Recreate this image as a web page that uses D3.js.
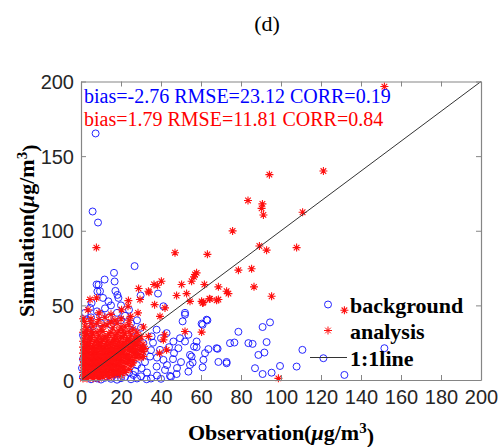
<!DOCTYPE html>
<html>
<head>
<meta charset="utf-8">
<script src="https://cdn.jsdelivr.net/npm/d3@7"></script>
<style>
  body { margin: 0; background: #fff; }
  svg { display: block; }
</style>
</head>
<body>
<svg id="chart" width="499" height="447"></svg>
<script>
// observation vs simulation, [obs, sim]
const backgroundPts = [
    [7.3,165.2],[5.8,112.9],[8.5,105.5],[26.8,76.3],[16.5,71.8],[11.8,67.3],[8.8,63.8],[16.8,66],
    [8.2,59.3],[17.2,59.7],[18.2,57],[29.8,56.6],[38.5,57.9],[5.3,51.6],[13.7,52.7],[4.5,48.3],
    [18.7,55],[9.5,59.5],[7.8,64],[41.2,49.4],[52,45],[52,43.8],[50.8,39.3],[62.8,40.4],[63.2,40],
    [60.8,37],[60.3,37.7],[94.5,38.6],[90.8,35.5],[78.7,32.3],[92.8,25.4],[74.5,24.7],[76.7,25.1],
    [83.7,24.7],[85.8,24.2],[68.3,20.9],[63.7,20.7],[57.8,25.8],[56.5,22.4],[52,25.8],[48.7,21.3],
    [46.5,18],[62,18],[61.2,13.5],[54.5,16.8],[55.8,11.7],[60.8,8.5],[68.7,12.1],[72.8,12.1],
    [88.7,16.8],[91.7,18.4],[99.5,9.4],[87,7.9],[90.8,4],[95.3,4.9],[53.7,5.6],[47.8,4],[45,2.2],
    [110.7,20.2],[107.8,9],[121.2,14.6],[151.7,21.3],[131.7,3.4],[67.8,21.3],[72.8,11.2],[54.5,10.1],
    [44.5,2.7],[32.8,0.5],[53.7,30.3],[49.5,28],[46.2,25.8],[42.8,31.4],[37.8,33.7],[35.3,29.2],
    [31.2,24.7],[39.5,20.2],[34.5,15.7],[41.2,13.5],[37.8,9],[42,6.7],[30.3,7.9],[26.2,3.4],
    [57.8,22],[55.3,15.7],
    [2,45],[3,40],[5,42],[8,46],[10,44],[12,48],[14,42],[18,45],[20,40],[22,43],[25,38],[6,36],
    [10,38],[15,37],[1,30],[3,25],[2,20],[4,33],[20,50],[24,47],[15,50],[11,55],[28,40],[30,35],
    [26,33],[5,0.5],[8,1],[10,0.3],[12,1.5],[15,0.8],[18,0.2],[20,1.2],[22,2],[25,0.5],[28,1],
    [30,2.5],[35,1],[38,3],[40,0.8],[14,3],[17,4],[24,5],[27,6],[32,12],[35,20],[30,18],[28,10],
    [33,5],[36,25],[40,28],[44,22],[38,15],[43,10],[46,14],[48,8],[50,12],[1,2],[0.5,8],[1,14]
];

const analysisPts = [
    [151.7,196.6],[94.2,137.6],[121.2,140],[83.5,120.3],[90.7,118],[90.3,115],[91.2,110.6],
    [110.8,112.4],[75.8,99.9],[89.2,89.8],[92.8,87],[107.8,88.7],[7.7,88.7],[47,85.3],[63.2,84.2],
    [78.7,73.6],[85.3,74.5],[57,70.7],[57.8,71.8],[56.5,69.1],[55.3,66.2],[40.2,66.2],[38.2,63.5],
    [36.5,64],[50.3,64],[61.7,64],[28.8,61.3],[34,58.8],[33.7,59.5],[68.7,62.4],[72.8,59.5],
    [73.7,57.9],[86.5,62.4],[95.3,56.1],[47.8,56.6],[52.8,57.9],[64.2,54.5],[67.8,53.4],[60.3,52.7],
    [61.2,52],[54.5,52.7],[64.5,54.3],[60.8,51.6],[68.7,53.9],[131.7,46.7],[98.7,1.1],[60.3,32.1],
    [52,32.5],[23.7,53.2],[29.5,53.9],[20.3,47.1],[24.8,42.6],[42,48.3],[39.5,42.6],[41.2,26.9],
    [42.8,20.2],[7.8,55],[4.5,53.9],[2.8,31.4],[31.2,15.7],[33.7,29.2],[31.2,35.5],[23.5,49.4],
    [28.5,45],[36.8,50.5],[41.8,30.3],[39.3,18],[3.5,47],[1.8,39.3],
    // dense cluster
    [1,1],[2,2],[3,1],[4,3],[5,2],[6,1],[7,3],[8,2],[9,1],[10,3],[11,2],[12,4],[14,2],[16,3],[18,4],[20,3],
    [1,5],[2,6],[3,7],[4,5],[5,6],[6,7],[7,5],[8,6],[9,7],[10,5],[11,6],[12,7],[13,5],[14,6],[15,7],
    [16,5],[17,6],[18,7],[20,6],[22,5],
    [1,10],[2,9],[3,11],[4,10],[5,9],[6,11],[7,10],[8,9],[9,11],[10,10],[11,9],[12,11],[13,10],[14,9],
    [15,11],[16,10],[17,9],[18,11],[19,10],[21,9],[23,11],[25,10],
    [1,14],[2,13],[3,15],[4,14],[5,13],[6,15],[7,14],[8,13],[9,15],[10,14],[11,13],[12,15],[13,14],
    [14,13],[15,15],[16,14],[17,13],[18,15],[19,14],[20,13],[22,15],[24,14],[26,13],[28,15],
    [1,18],[2,17],[3,19],[4,18],[6,17],[7,19],[8,18],[10,17],[11,19],[12,18],[13,17],[14,19],[15,18],
    [16,17],[17,19],[18,18],[19,17],[20,19],[21,18],[23,17],[25,19],[27,18],[29,17],[31,19],
    [1,22],[3,21],[4,23],[6,22],[7,21],[9,23],[10,22],[12,21],[13,23],[15,22],[16,21],[18,23],[19,22],
    [20,21],[22,23],[24,22],[26,21],[28,23],[30,22],
    [1,26],[3,25],[5,27],[7,26],[9,25],[11,27],[13,26],[15,25],[17,27],[19,26],[21,25],[23,27],
    [25,26],[27,25],[29,27],
    [2,30],[4,29],[6,31],[9,30],[12,29],[14,31],[17,30],[20,29],[22,31],[25,30],[28,29],
    [3,34],[6,36],[10,34],[13,37],[16,35],[19,33],[22,36],[26,34],[8,38],[18,38],
    [5,41],[12,42],[20,41],[15,44],[9,45],
    [1.5,3.5],[3.5,4],[5.5,3.5],[7.5,4],[9.5,3.5],[11.5,4.5],[13.5,3.5],[15.5,4],[17.5,5],[19.5,4.5],
    [1.5,8],[3.5,8.5],[5.5,7.5],[7.5,8],[9.5,8.5],[11.5,7.5],[13.5,8],[15.5,8.5],[17.5,8],[19.5,7.5],
    [21.5,7.5],[24,7],
    [1.5,12],[3.5,12.5],[5.5,11.5],[7.5,12],[9.5,12.5],[11.5,11.5],[13.5,12],[15.5,12.5],[17.5,12],
    [19.5,11.5],[21.5,12],[23.5,12.5],[26,11.5],
    [1.5,16],[3.5,16.5],[5.5,15.5],[7.5,16],[9.5,16.5],[11.5,15.5],[13.5,16],[15.5,16.5],[17.5,16],
    [19.5,15.5],[21.5,16],[23.5,15.5],[25.5,16],[27.5,16.5],[30,15],
    [1.5,20],[3.5,20.5],[5.5,19.5],[7.5,20],[9.5,20.5],[11.5,19.5],[13.5,20],[15.5,20.5],[17.5,20],
    [19.5,19.5],[21.5,20],[23.5,20.5],[25.5,19.5],[27.5,20],[29.5,20.5],[32,21],
    [2,24],[4,24.5],[6,23.5],[8,24],[10,24.5],[12,23.5],[14,24],[16,24.5],[18,24],[20,23.5],[22,24],
    [24,24.5],[26,23.5],[28,25],[31,24],
    [2,28],[5,28.5],[8,27.5],[10,28],[13,28.5],[16,27.5],[18,28],[21,28.5],[24,27.5],[27,28],[30,29],
    [1,32],[5,32.5],[8,32],[11,32.5],[15,32],[18,31.5],[21,33],[24,32.5],[28,32],
    [2,36],[5,38],[11,36.5],[15,39],[20,35.5],[24,37],[1,41],[9,40.5],[17,40],[24,40]
];

const xTicks = [0, 20, 40, 60, 80, 100, 120, 140, 160, 180, 200];
const yTicks = [0, 50, 100, 150, 200];
const statLines = [
    {text: 'bias=-2.76 RMSE=23.12 CORR=0.19', color: '#0000ff'},
    {text: 'bias=1.79 RMSE=11.81 CORR=0.84', color: '#ff0000'}
];
const legendItems = ['background', 'analysis', '1:1line'];

const margin = {left: 81, right: 18, top: 81.5, bottom: 67};
const W = 499, H = 447;
const svg = d3.select('#chart');

const x = d3.scaleLinear().domain([0, 200]).range([margin.left, W - margin.right]);
const y = d3.scaleLinear().domain([0, 200]).range([H - margin.bottom, margin.top]);

const serif = '"Liberation Serif", "Times New Roman", serif';
const sans = '"Liberation Sans", Arial, Helvetica, sans-serif';

// title
svg.append('text')
    .attr('x', 267).attr('y', 31)
    .attr('text-anchor', 'middle')
    .style('font-family', serif).style('font-size', '22px')
    .text('(d)');

const asterisk = 'M-4,0L4,0M0,-4L0,4M-2.8,-2.8L2.8,2.8M-2.8,2.8L2.8,-2.8';

const plot = svg.append('g');

plot.selectAll('.bg')
    .data(backgroundPts)
    .enter()
    .append('circle')
    .attr('class', 'bg')
    .attr('cx', d => x(d[0]))
    .attr('cy', d => y(d[1]))
    .attr('r', 3.5)
    .style('fill', 'none')
    .style('stroke', '#1010ff')
    .style('stroke-width', '0.9px');

plot.selectAll('.an')
    .data(analysisPts)
    .enter()
    .append('path')
    .attr('class', 'an')
    .attr('d', asterisk)
    .attr('transform', d => 'translate(' + x(d[0]) + ',' + y(d[1]) + ')')
    .style('fill', 'none')
    .style('stroke', '#ff1010')
    .style('stroke-width', '1.1px');

// 1:1 line
plot.append('line')
    .attr('x1', x(0)).attr('y1', y(0))
    .attr('x2', x(200)).attr('y2', y(200))
    .style('stroke', '#333')
    .style('stroke-width', '1px');

// axes (ticks inward, mirrored)
const frameColor = '#858585';
const tickLen = 5;

const xAxis = svg.append('g')
    .attr('transform', 'translate(0,' + y(0) + ')')
    .call(d3.axisBottom(x).tickValues(xTicks).tickSizeInner(-tickLen).tickSizeOuter(0).tickPadding(10));
const yAxis = svg.append('g')
    .attr('transform', 'translate(' + x(0) + ',0)')
    .call(d3.axisLeft(y).tickValues(yTicks).tickSizeInner(-tickLen).tickSizeOuter(0).tickPadding(7));
const xTop = svg.append('g')
    .attr('transform', 'translate(0,' + y(200) + ')')
    .call(d3.axisTop(x).tickValues(xTicks).tickSizeInner(-tickLen).tickSizeOuter(0).tickFormat(''));
const yRight = svg.append('g')
    .attr('transform', 'translate(' + x(200) + ',0)')
    .call(d3.axisRight(y).tickValues(yTicks).tickSizeInner(-tickLen).tickSizeOuter(0).tickFormat(''));

[xAxis, yAxis, xTop, yRight].forEach(function (g) {
    g.select('.domain').style('stroke', frameColor).style('stroke-width', '1.2px');
    g.selectAll('.tick line').style('stroke', frameColor).style('stroke-width', '1px');
    g.selectAll('.tick text')
        .style('font-family', sans)
        .style('font-size', '20px')
        .style('fill', '#262626');
});
xAxis.selectAll('.tick text').attr('dy', '0.71em');
yAxis.selectAll('.tick text').attr('dy', '0.35em');

// stat annotations
svg.selectAll('.stat')
    .data(statLines)
    .enter()
    .append('text')
    .attr('class', 'stat')
    .attr('x', 84)
    .attr('y', (d, i) => 103 + i * 23)
    .style('font-family', serif)
    .style('font-size', '20px')
    .style('fill', d => d.color)
    .text(d => d.text);

// legend
const legend = svg.append('g');
const lgX = 328, lgTextX = 350;
const lgRows = [304.5, 330.5, 357.5];

legend.append('circle')
    .attr('cx', lgX).attr('cy', lgRows[0]).attr('r', 3.5)
    .style('fill', 'none').style('stroke', '#1010ff').style('stroke-width', '0.9px');
legend.append('path')
    .attr('d', asterisk)
    .attr('transform', 'translate(' + lgX + ',' + lgRows[1] + ')')
    .style('fill', 'none').style('stroke', '#ff1010').style('stroke-width', '1px');
legend.append('line')
    .attr('x1', lgX - 18).attr('x2', lgX + 19)
    .attr('y1', lgRows[2]).attr('y2', lgRows[2])
    .style('stroke', '#333').style('stroke-width', '1px');

legend.selectAll('.lg')
    .data(legendItems)
    .enter()
    .append('text')
    .attr('class', 'lg')
    .attr('x', lgTextX)
    .attr('y', (d, i) => lgRows[i] + 8)
    .style('font-family', serif)
    .style('font-size', '22px')
    .style('font-weight', 'bold')
    .text(d => d);

// axis titles
function axisTitle (sel) {
    sel.style('font-family', serif)
        .style('font-size', '22px')
        .style('font-weight', 'bold');
    sel.append('tspan').text('Observation(');
    sel.append('tspan').style('font-style', 'italic').text('\u03bc');
    sel.append('tspan').text('g/m');
    sel.append('tspan').attr('dy', '-0.45em').style('font-size', '15px').text('3');
    sel.append('tspan').attr('dy', '0.45em').text(')');
}

const xt = svg.append('text')
    .attr('x', (x(0) + x(200)) / 2)
    .attr('y', 440)
    .attr('text-anchor', 'middle');
axisTitle(xt);

const yt = svg.append('text')
    .attr('transform', 'translate(34,' + (y(0) + y(200)) / 2 + ') rotate(-90)')
    .attr('text-anchor', 'middle');
axisTitle(yt);
yt.select('tspan').text('Simulation(');
</script>
</body>
</html>
